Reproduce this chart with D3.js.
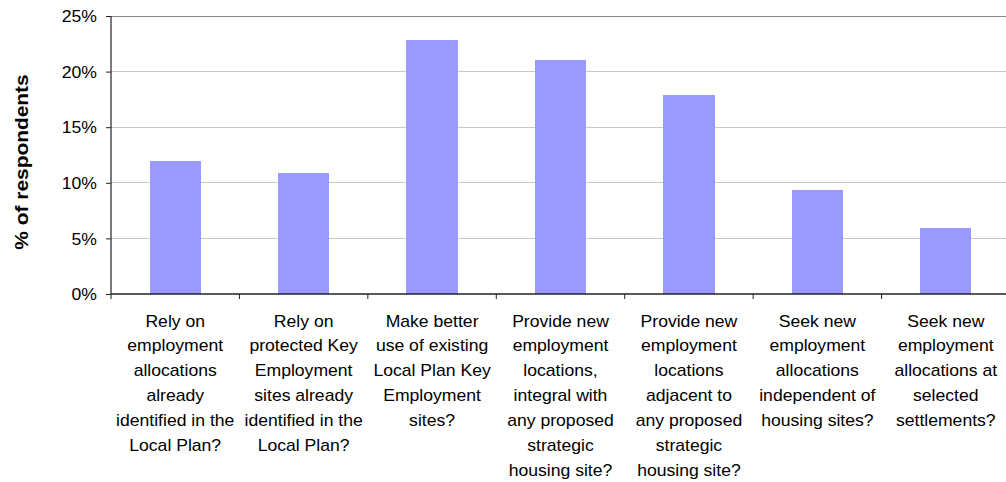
<!DOCTYPE html>
<html><head><meta charset="utf-8">
<script src="https://cdn.jsdelivr.net/npm/d3@7"></script>
<style>body{margin:0;background:#fff}svg{display:block}text{font-family:"Liberation Sans",Arial,sans-serif;fill:#000}</style>
</head><body><svg id="c" width="1006" height="482"></svg>
<script>
const categories = [
  ["Rely on","employment","allocations","already","identified in the","Local Plan?"],
  ["Rely on","protected Key","Employment","sites already","identified in the","Local Plan?"],
  ["Make better","use of existing","Local Plan Key","Employment","sites?"],
  ["Provide new","employment","locations,","integral with","any proposed","strategic","housing site?"],
  ["Provide new","employment","locations","adjacent to","any proposed","strategic","housing site?"],
  ["Seek new","employment","allocations","independent of","housing sites?"],
  ["Seek new","employment","allocations at","selected","settlements?"]
];
const values = [12.0, 10.9, 22.8, 21.0, 17.9, 9.35, 5.95];
const yTicks = [0, 5, 10, 15, 20, 25];
const yTitle = "% of respondents";

const svg = d3.select("#c");
const L = 111, R = 1010, T = 16, B = 294;
const x = d3.scaleBand().domain(d3.range(values.length)).range([L, R]).paddingInner(0.6).paddingOuter(0.3);
const xb = d3.scaleBand().domain(d3.range(values.length)).range([L, R]);
const y = d3.scaleLinear().domain([0, 25]).range([B, T]);
const sx = 1.1;

// gridlines
svg.append("g").selectAll("line").data(yTicks.filter(d => d > 0)).join("line")
  .attr("x1", L).attr("x2", 1006).attr("y1", d => y(d)).attr("y2", d => y(d))
  .attr("stroke", d => d === 25 ? "#8a8a8a" : "#c8c8c8").attr("stroke-width", 1).attr("shape-rendering","crispEdges");

// bars
svg.append("g").selectAll("rect").data(values).join("rect")
  .attr("x", (d, i) => x(i)).attr("width", x.bandwidth())
  .attr("y", d => y(d)).attr("height", d => B - y(d))
  .attr("fill", "#9999ff").attr("shape-rendering","crispEdges");

// y axis
const ya = svg.append("g").attr("transform", `translate(${L},0)`)
  .call(d3.axisLeft(y).tickValues(yTicks).tickSize(5).tickFormat(d => d + "%"));
ya.select(".domain").attr("stroke", "#222").attr("stroke-width", 1.2).attr("d", `M0,${T}V${B}`);
ya.selectAll(".tick line").attr("stroke", "#222");
ya.selectAll(".tick text").attr("font-size", 16).attr("x", 0)
  .attr("transform", `translate(-14,0) scale(${sx},1)`).attr("dy", "0.36em")
  .style("font-family", '"Liberation Sans",Arial,sans-serif');

// x axis
const xa = svg.append("g").attr("transform", `translate(0,${B})`)
  .call(d3.axisBottom(xb).tickValues([]).tickSize(0));
xa.select(".domain").attr("stroke", "#222").attr("stroke-width", 1.5).attr("d", `M${L},0H1006`);
xa.selectAll("line.tk").data(d3.range(values.length + 1)).join("line").attr("class","tk")
  .attr("x1", i => i < values.length ? xb(i) : R).attr("x2", i => i < values.length ? xb(i) : R)
  .attr("y1", 0).attr("y2", 5).attr("stroke", "#222");

// category labels
const lab = svg.append("g").selectAll("g").data(categories).join("g")
  .attr("transform", (d, i) => `translate(${xb(i) + xb.bandwidth() / 2},326.5) scale(${sx},1)`);
lab.selectAll("text").data(d => d).join("text")
  .attr("y", (d, j) => j * 24.9).attr("text-anchor", "middle").attr("font-size", 16).text(d => d);

// y title
svg.append("text").attr("transform", `translate(28,${(T + B) / 2 + 7}) rotate(-90) scale(${sx},1)`)
  .attr("text-anchor", "middle").attr("font-size", 19).attr("font-weight", "bold").text(yTitle);
</script></body></html>
